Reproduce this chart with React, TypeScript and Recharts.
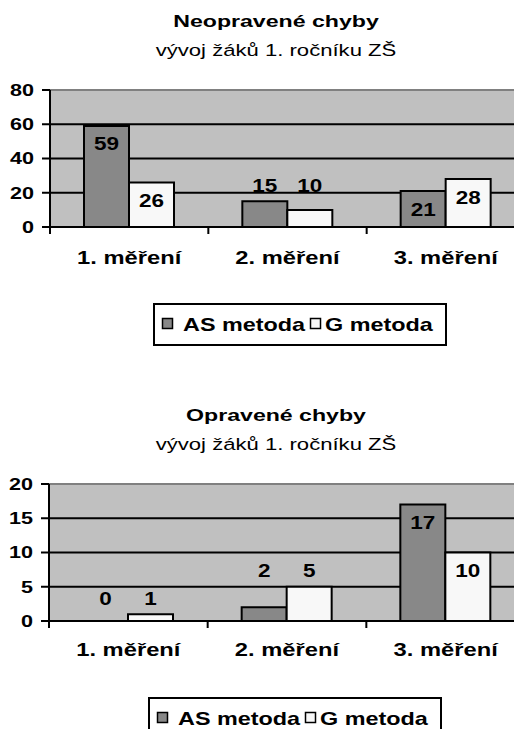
import { BarChart, Bar, XAxis, YAxis, CartesianGrid, LabelList, ReferenceLine } from 'recharts'

const categories = ['1. měření', '2. měření', '3. měření']
const uncorrectedAS = [59, 15, 21]
const uncorrectedG = [26, 10, 28]
const correctedAS = [0, 2, 17]
const correctedG = [1, 5, 10]
const uncorrectedTicks = [0, 20, 40, 60, 80]
const correctedTicks = [0, 5, 10, 15, 20]
const seriesNames = ['AS metoda', 'G metoda']

const FONT = '"Liberation Sans", Arial, sans-serif'
const AS_FILL = '#888888'
const G_FILL = '#F8F8F8'
const PLOT_FILL = '#C0C0C0'
const CHART_W = 530
const CHART_H = 300
const PLOT_TOP = 90
const PLOT_H = 137
const RIGHT = 5

// text in this chart is drawn a bit wider than the font itself
const stretch = (x: number, y: number, k = 1.3) => `translate(${x},${y}) scale(${k},1)`

const ValueTick = ({ x, y, payload }: any) => (
      <g transform={stretch(x, y, 1.35)}>
            <text textAnchor="end" dy="0.36em" fontFamily={FONT} fontWeight="bold" fontSize={16} fill="#000">
                  {payload.value}
            </text>
      </g>
)

const CategoryTick = ({ x, y, payload, band, gap }: any) => (
      <g>
            {/* small mark on the left edge of each category */}
            <line x1={x - band / 2} x2={x - band / 2} y1={y} y2={y + 7} stroke="#000" strokeWidth={2} />
            <g transform={stretch(x, y + gap, 1.32)}>
                  <text textAnchor="middle" fontFamily={FONT} fontWeight="bold" fontSize={18} fill="#000">
                        {payload.value}
                  </text>
            </g>
      </g>
)

const Header = ({ title, subtitle }: { title: string; subtitle: string }) => (
      <svg width={522} height={70} style={{ position: 'absolute', left: 0, top: 0 }}>
            <g transform={stretch(276, 27, 1.36)}>
                  <text textAnchor="middle" fontFamily={FONT} fontWeight="bold" fontSize={17} fill="#000">{title}</text>
            </g>
            <g transform={stretch(276, 56, 1.3)}>
                  <text textAnchor="middle" fontFamily={FONT} fontSize={17} fill="#000">{subtitle}</text>
            </g>
      </svg>
)

const BoxLegend = ({ left }: { left: number }) => (
      <svg width={300} height={46} style={{ position: 'absolute', left, top: 303 }}>
            <rect x={1} y={1} width={292} height={41} fill="#fff" stroke="#000" strokeWidth={2} />
            <rect x={9.5} y={15.5} width={10} height={10} fill={AS_FILL} stroke="#000" strokeWidth={1.5} />
            <g transform={stretch(30, 28, 1.3)}>
                  <text fontFamily={FONT} fontWeight="bold" fontSize={18} fill="#000">{seriesNames[0]}</text>
            </g>
            <rect x={157.5} y={15.5} width={10} height={10} fill={G_FILL} stroke="#000" strokeWidth={1.5} />
            <g transform={stretch(172, 28, 1.3)}>
                  <text fontFamily={FONT} fontWeight="bold" fontSize={18} fill="#000">{seriesNames[1]}</text>
            </g>
      </svg>
)

type PanelProps = {
      top: number
      title: string
      as: number[]
      g: number[]
      ticks: number[]
      plotLeft: number
      labelGap: number
      legendLeft: number
}

const Panel = ({ top, title, as, g, ticks, plotLeft, labelGap, legendLeft }: PanelProps) => {
      const rows = categories.map((name, i) => ({ name, as: as[i], g: g[i] }))
      const yMax = ticks[ticks.length - 1]
      const unit = PLOT_H / yMax
      const band = (CHART_W - RIGHT - plotLeft) / categories.length

      // tall bars carry the value just under their top, short ones above the pair
      const renderValue = (p: any) => {
            const { x, y, width, height, value } = p
            const row = rows[Math.min(rows.length - 1, Math.max(0, Math.floor((x + width / 2 - plotLeft) / band)))]
            const base = y + height
            const pairTop = base - Math.max(row.as, row.g) * unit
            const cy = height > 35.2 ? y + 18 : pairTop - 16
            return (
                  <g transform={stretch(x + width / 2, cy, 1.25)}>
                        <text textAnchor="middle" dy="0.36em" fontFamily={FONT} fontWeight="bold" fontSize={18} fill="#000">
                              {value}
                        </text>
                  </g>
            )
      }

      return (
            <div style={{ position: 'absolute', left: 0, top, width: 522, height: 395 }}>
                  <Header title={title} subtitle="vývoj žáků 1. ročníku ZŠ" />
                  <div style={{ position: 'absolute', left: 0, top: 0 }}>
                        <BarChart
                              width={CHART_W}
                              height={CHART_H}
                              data={rows}
                              margin={{ top: PLOT_TOP, right: RIGHT, bottom: CHART_H - PLOT_TOP - PLOT_H - 40, left: 0 }}
                              barGap={0}
                        >
                              <CartesianGrid vertical={false} fill={PLOT_FILL} stroke="#000" strokeWidth={2} />
                              <ReferenceLine y={yMax} stroke="#808080" strokeWidth={2} />
                              <XAxis
                                    dataKey="name"
                                    height={40}
                                    tickSize={0}
                                    tickMargin={0}
                                    tickLine={false}
                                    axisLine={{ stroke: '#000', strokeWidth: 2 }}
                                    tick={(p: any) => <CategoryTick {...p} band={band} gap={labelGap} />}
                              />
                              <YAxis
                                    width={plotLeft}
                                    domain={[0, yMax]}
                                    ticks={ticks}
                                    interval={0}
                                    tickSize={8}
                                    tickMargin={8}
                                    axisLine={{ stroke: '#000', strokeWidth: 2 }}
                                    tickLine={{ stroke: '#000', strokeWidth: 2 }}
                                    tick={<ValueTick />}
                              />
                              <Bar dataKey="as" name={seriesNames[0]} fill={AS_FILL} stroke="#000" strokeWidth={2} barSize={45} minPointSize={0.01} isAnimationActive={false}>
                                    <LabelList dataKey="as" content={renderValue} />
                              </Bar>
                              <Bar dataKey="g" name={seriesNames[1]} fill={G_FILL} stroke="#000" strokeWidth={2} barSize={45} minPointSize={0.01} isAnimationActive={false}>
                                    <LabelList dataKey="g" content={renderValue} />
                              </Bar>
                        </BarChart>
                  </div>
                  <BoxLegend left={legendLeft} />
            </div>
      )
}

export default function App() {
      return (
            <div style={{ position: 'relative', width: 522, height: 737, margin: -8, overflow: 'hidden', background: '#fff' }}>
                  <Panel
                        top={0}
                        title="Neopravené chyby"
                        as={uncorrectedAS}
                        g={uncorrectedG}
                        ticks={uncorrectedTicks}
                        plotLeft={50}
                        labelGap={37}
                        legendLeft={153}
                  />
                  <Panel
                        top={394}
                        title="Opravené chyby"
                        as={correctedAS}
                        g={correctedG}
                        ticks={correctedTicks}
                        plotLeft={49}
                        labelGap={35}
                        legendLeft={148}
                  />
            </div>
      )
}
